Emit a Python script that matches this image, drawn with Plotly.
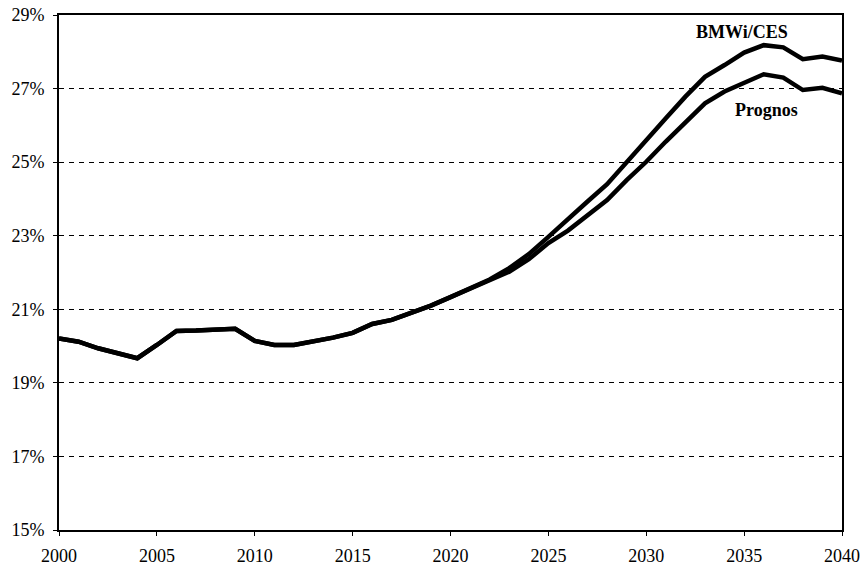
import plotly.graph_objects as go

years = list(range(2000, 2041))

# shared history up to 2019, then two scenarios
bmwi_ces = [
    20.21, 20.12, 19.94, 19.79, 19.67, 20.03, 20.41, 20.42, 20.45, 20.47,
    20.14, 20.03, 20.03, 20.12, 20.23, 20.36, 20.60, 20.71, 20.89, 21.10,
    21.33, 21.57, 21.81, 22.12, 22.50, 22.97, 23.43, 23.93, 24.40, 25.01,
    25.60, 26.19, 26.78, 27.32, 27.64, 27.98, 28.18, 28.12, 27.80, 27.87,
    27.76,
]
prognos = [
    20.21, 20.12, 19.94, 19.79, 19.67, 20.03, 20.41, 20.42, 20.45, 20.47,
    20.14, 20.03, 20.03, 20.12, 20.23, 20.36, 20.60, 20.71, 20.89, 21.10,
    21.33, 21.56, 21.78, 22.02, 22.36, 22.80, 23.14, 23.56, 23.97, 24.51,
    25.01, 25.56, 26.10, 26.60, 26.92, 27.16, 27.39, 27.30, 26.96, 27.02,
    26.87,
]

y_ticks = [15, 17, 19, 21, 23, 25, 27, 29]
y_labels = [f"{v}%" for v in y_ticks]

fig = go.Figure()
fig.add_trace(go.Scatter(x=years, y=prognos, mode="lines", name="Prognos",
                         line=dict(color="black", width=4.5)))
fig.add_trace(go.Scatter(x=years, y=bmwi_ces, mode="lines", name="BMWi/CES",
                         line=dict(color="black", width=4.5)))

label_font = dict(family="Liberation Serif", size=18, color="black")
fig.add_annotation(x=2034.9, y=28.55, text="<b>BMWi/CES</b>", showarrow=False, font=label_font)
fig.add_annotation(x=2036.15, y=26.42, text="<b>Prognos</b>", showarrow=False, font=label_font)

fig.update_xaxes(
    range=[2000, 2040], tickvals=list(range(2000, 2041, 5)),
    showgrid=False, zeroline=False, automargin=False,
    showline=True, linecolor="black", linewidth=2, mirror=True,
    ticks="outside", ticklen=4, tickcolor="black",
    ticklabelstandoff=4, ticklabeloverflow="allow",
)
fig.update_yaxes(
    range=[15, 29], tickvals=y_ticks, ticktext=y_labels,
    showgrid=True, gridcolor="black", gridwidth=1, griddash="5px,5px",
    zeroline=False, automargin=False,
    showline=True, linecolor="black", linewidth=2, mirror=True,
    ticks="outside", ticklen=4, tickcolor="black",
    ticklabelstandoff=5, ticklabeloverflow="allow",
)

fig.update_layout(
    width=862, height=567,
    margin=dict(l=59, r=20, t=15, b=37),
    paper_bgcolor="white", plot_bgcolor="white",
    showlegend=False,
    font=dict(family="Liberation Serif", size=18, color="black"),
)

# drop the default 8px body margin so the figure fills the window
fig.write_html("out.html", config={"displayModeBar": False},
               post_script="document.body.style.margin='0';")
